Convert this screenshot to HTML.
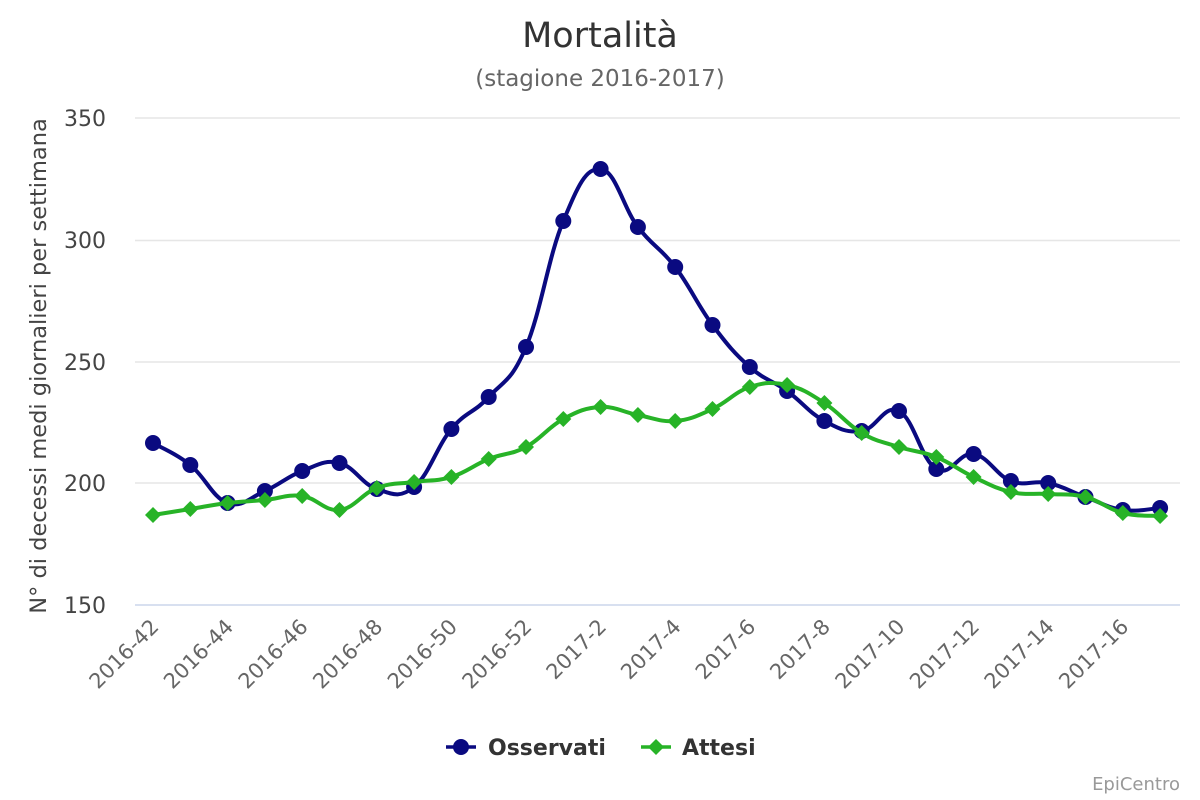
<!DOCTYPE html>
<html><head><meta charset="utf-8"><style>
html,body{margin:0;padding:0;background:#fff;}
svg{display:block;font-family:"DejaVu Sans","Liberation Sans",sans-serif;}
</style></head><body>
<svg id="c" width="1200" height="800" xmlns="http://www.w3.org/2000/svg">
<rect width="1200" height="800" fill="#fff"/>
<text x="600" y="47" text-anchor="middle" font-size="35" fill="#333">Mortalità</text>
<text x="600" y="86" text-anchor="middle" font-size="23" fill="#666">(stagione 2016-2017)</text>
<g stroke="#e6e6e6" stroke-width="1.5">
<line x1="135" x2="1180" y1="118" y2="118"/>
<line x1="135" x2="1180" y1="240.5" y2="240.5"/>
<line x1="135" x2="1180" y1="362" y2="362"/>
<line x1="135" x2="1180" y1="483" y2="483"/>
</g>
<line x1="135" x2="1180" y1="605" y2="605" stroke="#ccd6eb" stroke-width="1.5"/>
<g font-size="22" fill="#444" text-anchor="end">
<text x="106" y="126">350</text>
<text x="106" y="248">300</text>
<text x="106" y="370">250</text>
<text x="106" y="491">200</text>
<text x="106" y="613">150</text>
</g>
<text transform="translate(46,366) rotate(-90)" text-anchor="middle" font-size="22.5" fill="#444">N° di decessi medi giornalieri per settimana</text>
<g id="xl" font-size="21" fill="#666" text-anchor="end"></g>
<g id="series"></g>
<g font-size="22" font-weight="bold" fill="#333">
<line x1="446" x2="476" y1="747" y2="747" stroke="#0a0a80" stroke-width="3.5"/>
<circle cx="461" cy="747" r="8" fill="#0a0a80"/>
<text x="488" y="755">Osservati</text>
<line x1="641" x2="671" y1="747" y2="747" stroke="#27b327" stroke-width="3.5"/>
<path d="M656 739 L664 747 L656 755 L648 747Z" fill="#27b327"/>
<text x="682" y="755">Attesi</text>
</g>
<text x="1180" y="790" text-anchor="end" font-size="18" fill="#999">EpiCentro</text>
</svg>
<script>
var ns="http://www.w3.org/2000/svg";
var xs=[];for(var i=0;i<28;i++)xs.push(153+i*37.3);
var obs=[443,465,503,491,471,463,489,487,429,397,347,221,169,227,267,325,367,391,421,431,411,469,454,481,483,497,510,508];
var att=[515,509,503,500,496,510,488,482,477,459,447,419,407,415,421,409,387,385,403,433,447,457,477,492,494,497,513,516];
function path(ys){
 var d="M"+xs[0]+" "+ys[0];
 for(var i=0;i<ys.length-1;i++){
  var x0=xs[Math.max(i-1,0)],y0=ys[Math.max(i-1,0)],x1=xs[i],y1=ys[i],x2=xs[i+1],y2=ys[i+1],x3=xs[Math.min(i+2,ys.length-1)],y3=ys[Math.min(i+2,ys.length-1)];
  var t=0.2;
  d+=" C"+(x1+(x2-x0)*t)+" "+(y1+(y2-y0)*t)+" "+(x2-(x3-x1)*t)+" "+(y2-(y3-y1)*t)+" "+x2+" "+y2;
 }
 return d;
}
var g=document.getElementById("series");
function add(tag,attrs){var e=document.createElementNS(ns,tag);for(var k in attrs)e.setAttribute(k,attrs[k]);g.appendChild(e);}
add("path",{d:path(obs),fill:"none",stroke:"#0a0a80","stroke-width":4});
obs.forEach(function(y,i){add("circle",{cx:xs[i],cy:y,r:8,fill:"#0a0a80"});});
add("path",{d:path(att),fill:"none",stroke:"#27b327","stroke-width":4});
att.forEach(function(y,i){var x=xs[i];add("path",{d:"M"+x+" "+(y-8)+" L"+(x+8)+" "+y+" L"+x+" "+(y+8)+" L"+(x-8)+" "+y+"Z",fill:"#27b327"});});
var labs=["2016-42","2016-44","2016-46","2016-48","2016-50","2016-52","2017-2","2017-4","2017-6","2017-8","2017-10","2017-12","2017-14","2017-16"];
var xl=document.getElementById("xl");
labs.forEach(function(l,j){var x=xs[j*2]+7;var t=document.createElementNS(ns,"text");t.setAttribute("transform","translate("+x+",628) rotate(-45)");t.textContent=l;xl.appendChild(t);});
</script>
</body></html>
